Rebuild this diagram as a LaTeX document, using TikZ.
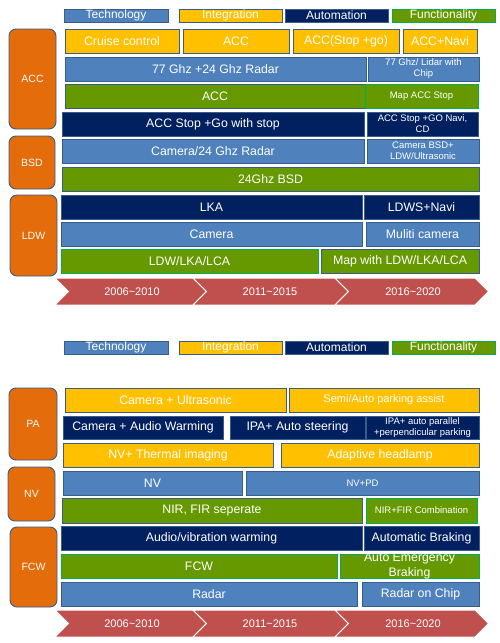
\documentclass[tikz,border=0pt]{standalone}
\usepackage{fontspec}
\setmainfont{Liberation Sans}
\definecolor{techB}{HTML}{4F81BD}
\definecolor{intY}{HTML}{FFC000}
\definecolor{autoN}{HTML}{002060}
\definecolor{funcG}{HTML}{669900}
\definecolor{brG}{HTML}{00B050}
\definecolor{edgeB}{HTML}{385D8A}
\definecolor{orgO}{HTML}{E46C0A}
\definecolor{tlR}{HTML}{C0504D}
\tikzset{
 boxbase/.style={draw=edgeB, line width=0.9pt, inner sep=0pt, outer sep=0pt, text=white, align=center, font=\fontsize{12.3}{14.5}\selectfont},
 tech/.style={boxbase, fill=techB},
 integ/.style={boxbase, fill=intY},
 autom/.style={boxbase, fill=autoN},
 func/.style={boxbase, fill=funcG},
 funcg/.style={boxbase, fill=funcG, draw=brG},
 smalltxt/.style={font=\fontsize{9.5}{11}\selectfont},
 midtxt/.style={font=\fontsize{11}{13}\selectfont},
 legtxt/.style={font=\fontsize{12}{14}\selectfont},
 lab/.style={fill=orgO, draw=edgeB, line width=0.9pt, rounded corners=7pt, inner sep=0pt, outer sep=0pt, text=white, font=\fontsize{10.5}{12}\selectfont},
 tlseg/.style={fill=tlR, draw=white, line width=1pt},
 tltext/.style={text=white, font=\fontsize{11}{13}\selectfont},
}
\newcommand\bx[7]{\node[#6, anchor=north west, minimum width={(#4-#2)*1pt}, minimum height={(#5-#3)*1pt}] (#1) at (#2,#3) {#7};}
\newcommand\chevseg[4]{\path[tlseg] (#1,#3) -- (#2,#3) -- ({#2+13.5},{(#3+#4)/2}) -- (#2,#4) -- (#1,#4) -- ({#1+13.5},{(#3+#4)/2}) -- cycle;}
\begin{document}
\begin{tikzpicture}[x=1pt,y=-1pt]
\useasboundingbox (0,0) rectangle (500,643);
% ---------- top legend
\bx{lgA}{64}{9}{168}{22}{tech,legtxt}{Technology}
\bx{lgB}{179}{9}{282}{22}{integ,legtxt}{Integration}
\bx{lgC}{285}{9}{388}{22}{autom,legtxt}{Automation}
\bx{lgD}{392}{9}{495}{22}{funcg,legtxt}{Functionality}
% labels
\bx{accL}{9}{29}{56}{129}{lab}{ACC}
\bx{bsdL}{9}{136}{55}{189}{lab}{BSD}
\bx{ldwL}{10}{195}{57}{276}{lab}{LDW}
% rows
\bx{a1}{65}{29}{179}{53}{integ}{Cruise control}
\bx{a2}{183}{29}{289}{53}{integ}{ACC}
\bx{a3}{293}{29}{399}{53}{integ}{ACC(Stop +go)}
\bx{a4}{403}{29}{477}{53}{integ}{ACC+Navi}
\bx{b1}{65}{57}{366}{81}{tech}{77 Ghz +24 Ghz Radar}
\bx{b2}{368}{57}{479}{81}{tech,smalltxt}{77 Ghz/ Lidar with\\Chip}
\bx{c1}{65}{84}{365}{108}{func}{ACC}
\bx{c2}{365}{84}{478}{108}{funcg,smalltxt}{Map ACC Stop}
\bx{d1}{62}{112}{364}{136}{autom}{ACC Stop +Go with stop}
\bx{d2}{367}{112}{478}{136}{autom,smalltxt}{ACC Stop +GO Navi,\\CD}
\bx{e1}{62}{139}{364}{163}{tech}{Camera/24 Ghz Radar}
\bx{e2}{367}{139}{479}{163}{tech,smalltxt}{Camera BSD+\\LDW/Ultrasonic}
\bx{f1}{62}{167}{479}{191}{func}{24Ghz BSD}
\bx{g1}{61}{195}{362}{219}{autom}{LKA}
\bx{g2}{364}{195}{479}{219}{autom}{LDWS+Navi}
\bx{h1}{61}{222}{362}{246}{tech}{Camera}
\bx{h2}{366}{222}{479}{246}{tech}{Muliti camera}
\bx{i1}{61}{249}{318}{273}{funcg}{LDW/LKA/LCA}
\bx{i2}{321}{249}{479}{273}{func}{Map with LDW/LKA/LCA}
% timeline top
\chevseg{55}{193}{278}{305}
\chevseg{193}{335}{278}{305}
\chevseg{335}{475}{278}{305}
\node[tltext] (t1) at (132,291.5) {2006\textasciitilde2010};
\node[tltext] (t2) at (270,291.5) {2011\textasciitilde2015};
\node[tltext] (t3) at (413,291.5) {2016\textasciitilde2020};
% ---------- bottom legend
\bx{mgA}{64}{341}{168}{354}{tech,legtxt}{Technology}
\bx{mgB}{179}{341}{282}{354}{integ,legtxt}{Integration}
\bx{mgC}{285}{341}{388}{354}{autom,legtxt}{Automation}
\bx{mgD}{392}{341}{495}{354}{funcg,legtxt}{Functionality}
% labels
\bx{paL}{9}{388}{57}{460}{lab}{PA}
\bx{nvL}{8}{467}{55}{521}{lab}{NV}
\bx{fcwL}{10}{527}{57}{607}{lab}{FCW}
% rows
\bx{p1}{65}{388}{286}{412}{integ}{Camera + Ultrasonic}
\bx{p2}{289}{388}{479}{412}{integ,midtxt}{Semi/Auto parking assist}
\bx{q1}{63}{416}{223}{439}{autom}{Camera + Audio Warming}
\bx{q2}{230}{416}{365}{439}{autom}{IPA+ Auto steering}
\bx{q3}{366}{416}{479}{439}{autom,smalltxt}{IPA+ auto parallel\\+perpendicular parking}
\bx{r1}{63}{443}{273}{467}{integ}{NV+ Thermal imaging}
\bx{r2}{281}{443}{479}{467}{integ}{Adaptive headlamp}
\bx{s1}{63}{471}{242}{495}{tech}{NV}
\bx{s2}{246}{471}{479}{495}{tech,smalltxt}{NV+PD}
\bx{u1}{62}{498}{362}{523}{func}{NIR, FIR seperate}
\bx{u2}{366}{498}{477}{523}{funcg,smalltxt}{NIR+FIR Combination}
\bx{v1}{61}{526}{362}{550}{autom}{Audio/vibration warming}
\bx{v2}{364}{526}{479}{550}{autom}{Automatic Braking}
\bx{w1}{61}{554}{337}{578}{funcg}{FCW}
\bx{w2}{340}{554}{479}{578}{funcg}{\parbox[c][24pt][c]{139pt}{\centering Auto Emergency\\Braking}}
\bx{x1}{61}{582}{357}{606}{tech}{Radar}
\bx{x2}{362}{582}{479}{606}{tech}{Radar on Chip}
% timeline bottom
\chevseg{55}{193}{610}{637}
\chevseg{193}{335}{610}{637}
\chevseg{335}{475}{610}{637}
\node[tltext] (m1) at (132,623.5) {2006\textasciitilde2010};
\node[tltext] (m2) at (270,623.5) {2011\textasciitilde2015};
\node[tltext] (m3) at (413,623.5) {2016\textasciitilde2020};
\end{tikzpicture}
\end{document}
